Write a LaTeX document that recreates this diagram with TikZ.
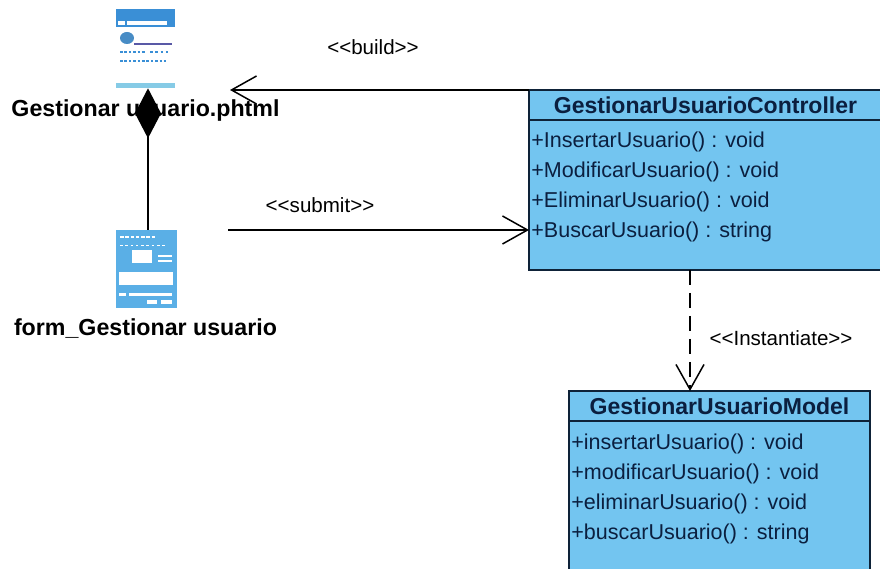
\documentclass[tikz,border=0pt]{standalone}
\usepackage{xcolor}
\usepackage{fontspec}
\setmainfont{Liberation Sans}
\usepackage{tikz}
\usetikzlibrary{arrows.meta}
\definecolor{boxblue}{HTML}{73C5F0}
\definecolor{boxline}{HTML}{0E2238}
\definecolor{boxtext}{HTML}{0B1F3F}
\definecolor{iconblue}{HTML}{5AAFE6}
\definecolor{barblue}{HTML}{3A8FD6}
\definecolor{paleblue}{HTML}{86CBE6}
\tikzset{
  classhead/.style = {draw = boxline, fill = boxblue, line width = 0.85pt, inner sep = 0pt, outer sep = 0pt, minimum height = 0.6cm, font = \fontsize{13.1}{15}\selectfont\bfseries, text = boxtext},
  classbody/.style = {draw = boxline, fill = boxblue, line width = 0.85pt, inner sep = 0pt, outer sep = 0pt},
  methods/.style = {align = left, inner sep = 0pt, text = boxtext, font = \fontsize{12.25}{17.07}\selectfont},
  stereotype/.style = {font = \fontsize{11.7}{13}\selectfont},
  iconlabel/.style = {font = \fontsize{13.2}{15}\selectfont\bfseries},
  openarrow/.style = {line width = 0.85pt, -{Straight Barb[length = 0.5cm, width = 0.56cm]}}
}
\begin{document}
\begin{tikzpicture}
    \clip (0, 0) rectangle (17.6, 11.38);
    % page icon
    \node[minimum width = 1.18cm, minimum height = 1.58cm, inner sep = 0pt] (pageicon) at (2.96, 10.41) {};
    {
      \fill[barblue] (2.32, 11.2) rectangle (3.5, 10.84);
      \fill[white] (2.54, 10.96) rectangle (3.34, 10.88);
      \fill[white] (2.36, 10.96) rectangle (2.5, 10.88);
      \fill[barblue!80!gray] (2.54, 10.62) ellipse (0.14 and 0.12);
      \draw[gray!70!blue, line width = 0.6pt] (2.68, 10.5) -- (3.44, 10.5);
      \draw[barblue, line width = 1.2pt, dash pattern = on 1.5pt off 1pt] (2.4, 10.34) -- (2.9, 10.34);
      \draw[barblue, line width = 0.8pt, dash pattern = on 1.5pt off 1.5pt] (3.0, 10.34) -- (3.42, 10.34);
      \draw[barblue, line width = 0.8pt, dash pattern = on 1.5pt off 1pt] (2.4, 10.16) -- (3.32, 10.16);
      \fill[paleblue] (2.32, 9.72) rectangle (3.5, 9.62);
    }
    % form icon
    \node[fill = iconblue, minimum width = 1.22cm, minimum height = 1.56cm, inner sep = 0pt] (formicon) at (2.93, 6.0) {};
    {
      \fill[white] (2.64, 6.38) rectangle (3.04, 6.12);
      \fill[white] (2.38, 5.94) rectangle (3.46, 5.68);
      \draw[white, line width = 0.8pt, dash pattern = on 2pt off 1pt] (2.4, 6.64) -- (3.1, 6.64);
      \draw[white, line width = 0.5pt, dash pattern = on 1.5pt off 1.5pt] (2.4, 6.48) -- (3.3, 6.48);
      \draw[white, line width = 0.7pt] (3.16, 6.26) -- (3.44, 6.26);
      \draw[white, line width = 0.7pt] (3.16, 6.16) -- (3.44, 6.16);
      \fill[white] (2.58, 5.52) rectangle (3.44, 5.46);
      \fill[white] (2.38, 5.52) rectangle (2.52, 5.46);
      \fill[white] (2.94, 5.38) rectangle (3.14, 5.30);
      \fill[white] (3.22, 5.38) rectangle (3.44, 5.30);
    }
    \node[iconlabel] (pagelabel) at (2.91, 9.17) {Gestionar usuario.phtml};
    \node[iconlabel] (formlabel) at (2.91, 4.80) {form\_Gestionar usuario};
    % controller class
    \node[classhead, minimum width = 7.06cm, anchor = north west] (controllerhead) at (10.58, 9.58) {GestionarUsuarioController};
    \node[classbody, minimum width = 7.06cm, minimum height = 3cm, anchor = north west] (controllerbody) at (controllerhead.south west) {};
    \node[methods, anchor = north west] (controllermethods) at (10.62, 8.74) {+InsertarUsuario() : void\\+ModificarUsuario() : void\\+EliminarUsuario() : void\\+BuscarUsuario() : string};
    % model class
    \node[classhead, minimum width = 6.02cm, anchor = north west] (modelhead) at (11.38, 3.56) {GestionarUsuarioModel};
    \node[classbody, minimum width = 6.02cm, minimum height = 3cm, anchor = north west] (modelbody) at (modelhead.south west) {};
    \node[methods, anchor = north west] (modelmethods) at (11.42, 2.70) {+insertarUsuario() : void\\+modificarUsuario() : void\\+eliminarUsuario() : void\\+buscarUsuario() : string};
    % connectors
    \coordinate (buildend) at (4.6, 9.58);
    \coordinate (submitstart) at (4.56, 6.78);
    \coordinate (modeltop) at ([xshift = -0.59cm]modelhead.north);
    \draw[openarrow] (controllerhead.north west) -- (buildend);
    \draw[openarrow] (submitstart) -- (controllerbody.west |- submitstart);
    \draw[openarrow, dash pattern = on 0.3cm off 0.16cm] (controllerbody.south -| modeltop) -- (modeltop);
    \draw[line width = 1pt, -{Diamond[length = 1cm, width = 0.52cm]}] (formicon.north -| pageicon.south) -- (pageicon.south);
    \node[stereotype] (buildlabel) at (7.46, 10.44) {<{}<build>{}>};
    \node[stereotype] (submitlabel) at (6.4, 7.28) {<{}<submit>{}>};
    \node[stereotype] (instantiatelabel) at (15.62, 4.62) {<{}<Instantiate>{}>};
  \end{tikzpicture}
\end{document}
